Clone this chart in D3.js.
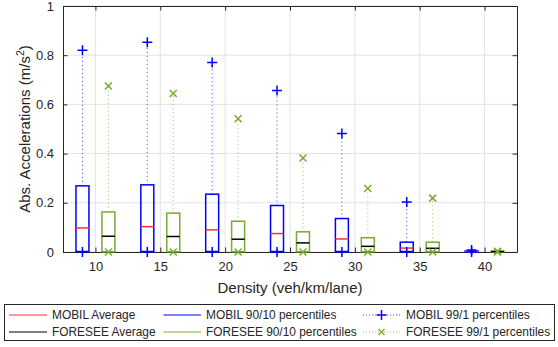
<!DOCTYPE html>
<html>
<head>
<meta charset="utf-8">
<script src="https://cdn.jsdelivr.net/npm/d3@7"></script>
<style>
  html, body { margin: 0; padding: 0; background: #fff; }
  svg { display: block; }
  text { font-family: "Liberation Sans", Arial, Helvetica, sans-serif; fill: #262626; }
</style>
</head>
<body>
<svg id="chart" width="558" height="347"></svg>
<script>
// ---- data ----
const densities   = [10, 15, 20, 25, 30, 35, 40];
const mobilAvg    = [0.098, 0.103, 0.090, 0.075, 0.053, 0.016, 0.002];
const mobilP90    = [0.269, 0.273, 0.235, 0.189, 0.136, 0.040, 0.004];
const mobilP10    = [0.002, 0.002, 0.002, 0.002, 0.002, 0.002, 0.001];
const mobilP99    = [0.820, 0.853, 0.770, 0.657, 0.482, 0.203, 0.008];
const mobilP1     = [0, 0, 0, 0, 0, 0, 0];
const foreseeAvg  = [0.064, 0.063, 0.052, 0.037, 0.023, 0.015, 0.002];
const foreseeP90  = [0.163, 0.158, 0.125, 0.082, 0.058, 0.040, 0.003];
const foreseeP10  = [0.001, 0.001, 0.001, 0.001, 0.001, 0.001, 0.001];
const foreseeP99  = [0.675, 0.644, 0.542, 0.382, 0.258, 0.219, 0.003];
const foreseeP1   = [0, 0, 0, 0, 0, 0, 0];
const xTicks = [10, 15, 20, 25, 30, 35, 40];
const yTicks = [0, 0.2, 0.4, 0.6, 0.8, 1];
const xLabel = "Density (veh/km/lane)";
const yLabel = "Abs. Accelerations (m/s";
const legendLabels = [
  "MOBIL Average", "MOBIL 90/10 percentiles", "MOBIL 99/1 percentiles",
  "FORESEE Average", "FORESEE 90/10 percentiles", "FORESEE 99/1 percentiles"
];

// ---- layout ----
const L = 63, R = 517, T = 6, B = 252;
const BLUE = "#0000ff", GREEN = "#77ac30", RED = "#ff3030", BLACK = "#000000", AX = "#262626";
const svg = d3.select("#chart");
const x = d3.scaleLinear().domain([7.5, 42.5]).range([L, R]);
const y = d3.scaleLinear().domain([0, 1]).range([B, T]);
const offset = 1, halfW = 0.5;

// grid
const g = svg.append("g");
g.selectAll(".vg").data(xTicks).join("line")
  .attr("x1", d => x(d)).attr("x2", d => x(d)).attr("y1", T).attr("y2", B)
  .attr("stroke", "#e3e3e3").attr("stroke-width", 1);
g.selectAll(".hg").data(yTicks).join("line")
  .attr("x1", L).attr("x2", R).attr("y1", d => y(d)).attr("y2", d => y(d))
  .attr("stroke", "#e3e3e3").attr("stroke-width", 1);

// axes (inward ticks, full box)
const tl = 4.5;
const axB = svg.append("g").attr("transform", `translate(0,${B})`)
  .call(d3.axisBottom(x).tickValues(xTicks).tickSizeInner(-tl).tickSizeOuter(0).tickPadding(10));
const axT = svg.append("g").attr("transform", `translate(0,${T})`)
  .call(d3.axisTop(x).tickValues(xTicks).tickSizeInner(-tl).tickSizeOuter(0).tickFormat(""));
const axL = svg.append("g").attr("transform", `translate(${L},0)`)
  .call(d3.axisLeft(y).tickValues(yTicks).tickSizeInner(-tl).tickSizeOuter(0).tickPadding(9).tickFormat(d3.format("")));
const axR = svg.append("g").attr("transform", `translate(${R},0)`)
  .call(d3.axisRight(y).tickValues(yTicks).tickSizeInner(-tl).tickSizeOuter(0).tickFormat(""));
[axB, axT, axL, axR].forEach(a => {
  a.select(".domain").attr("stroke", AX).attr("stroke-width", 1);
  a.selectAll(".tick line").attr("stroke", AX);
  a.selectAll("text").attr("font-size", 13).attr("fill", AX)
    .style("font-family", '"Liberation Sans", Arial, sans-serif');
});
axB.selectAll(".tick text").attr("dy", "0.71em");

// series drawing
function drawSeries(off, avg, p90, p10, p99, p1, col, avgCol, marker) {
  const gg = svg.append("g");
  const idx = d3.range(densities.length);
  // whiskers (dotted)
  gg.selectAll(".wu").data(idx).join("line")
    .attr("x1", i => x(densities[i] + off)).attr("x2", i => x(densities[i] + off))
    .attr("y1", i => y(p90[i])).attr("y2", i => y(p99[i]))
    .attr("stroke", col).attr("stroke-width", 1).attr("stroke-dasharray", "1,3").attr("opacity", 0.75);
  gg.selectAll(".wd").data(idx).join("line")
    .attr("x1", i => x(densities[i] + off)).attr("x2", i => x(densities[i] + off))
    .attr("y1", i => y(p10[i])).attr("y2", i => y(p1[i]))
    .attr("stroke", col).attr("stroke-width", 1).attr("stroke-dasharray", "1,3").attr("opacity", 0.75);
  // boxes
  gg.selectAll(".box").data(idx).join("rect")
    .attr("x", i => x(densities[i] + off - halfW))
    .attr("width", i => x(densities[i] + off + halfW) - x(densities[i] + off - halfW))
    .attr("y", i => y(p90[i]))
    .attr("height", i => Math.max(0.5, y(p10[i]) - y(p90[i])))
    .attr("fill", "none").attr("stroke", col).attr("stroke-width", 1.5);
  // averages
  gg.selectAll(".avg").data(idx).join("line")
    .attr("x1", i => x(densities[i] + off - halfW)).attr("x2", i => x(densities[i] + off + halfW))
    .attr("y1", i => y(avg[i])).attr("y2", i => y(avg[i]))
    .attr("stroke", avgCol).attr("stroke-width", 1.5);
  // markers
  const mk = (cx, cy) => marker === "plus"
    ? `M${cx - 5},${cy}H${cx + 5}M${cx},${cy - 5}V${cy + 5}`
    : `M${cx - 3.5},${cy - 3.5}L${cx + 3.5},${cy + 3.5}M${cx - 3.5},${cy + 3.5}L${cx + 3.5},${cy - 3.5}`;
  gg.selectAll(".mu").data(idx).join("path")
    .attr("d", i => mk(x(densities[i] + off), y(p99[i])))
    .attr("stroke", col).attr("stroke-width", 1.5).attr("fill", "none");
  gg.selectAll(".md").data(idx).join("path")
    .attr("d", i => mk(x(densities[i] + off), y(p1[i])))
    .attr("stroke", col).attr("stroke-width", 1.5).attr("fill", "none");
}
drawSeries(-offset, mobilAvg, mobilP90, mobilP10, mobilP99, mobilP1, BLUE, RED, "plus");
drawSeries(offset, foreseeAvg, foreseeP90, foreseeP10, foreseeP99, foreseeP1, GREEN, BLACK, "x");

// axis labels
svg.append("text").attr("x", (L + R) / 2).attr("y", 292.5).attr("text-anchor", "middle")
  .attr("font-size", 15).text(xLabel);
const yl = svg.append("text").attr("transform", `translate(30,${(T + B) / 2}) rotate(-90)`)
  .attr("text-anchor", "middle").attr("font-size", 15);
yl.append("tspan").text(yLabel);
yl.append("tspan").attr("font-size", 10.5).attr("dy", -6).text("2");
yl.append("tspan").attr("dy", 6).text(")");

// legend
const lg = svg.append("g");
lg.append("rect").attr("x", 4.5).attr("y", 304.5).attr("width", 550).attr("height", 36)
  .attr("fill", "#fff").attr("stroke", AX).attr("stroke-width", 1);
const cols = [{ l0: 9, l1: 47, t: 52 }, { l0: 163.5, l1: 201, t: 206 }, { l0: 363, l1: 400, t: 406 }];
const rows = [315, 332];
const legendStyles = [
  { col: RED, dash: null, mk: null }, { col: BLUE, dash: null, mk: null }, { col: BLUE, dash: "1,2", mk: "plus" },
  { col: BLACK, dash: null, mk: null }, { col: GREEN, dash: null, mk: null }, { col: GREEN, dash: "1,2", mk: "x" }
];
legendLabels.forEach((lab, k) => {
  const c = cols[k % 3], r = rows[Math.floor(k / 3)], st = legendStyles[k];
  const ln = lg.append("line").attr("x1", c.l0).attr("x2", c.l1).attr("y1", r).attr("y2", r)
    .attr("stroke", st.col).attr("stroke-width", 1);
  if (st.dash) ln.attr("stroke-dasharray", st.dash).attr("opacity", 0.7);
  const cx = (c.l0 + c.l1) / 2;
  if (st.mk === "plus") lg.append("path").attr("d", `M${cx - 5},${r}H${cx + 5}M${cx},${r - 5}V${r + 5}`)
    .attr("stroke", st.col).attr("stroke-width", 1.5);
  if (st.mk === "x") lg.append("path").attr("d", `M${cx - 3},${r - 3}L${cx + 3},${r + 3}M${cx - 3},${r + 3}L${cx + 3},${r - 3}`)
    .attr("stroke", st.col).attr("stroke-width", 1.3);
  lg.append("text").attr("x", c.t).attr("y", r + 4.2).attr("font-size", 11.9).attr("fill", "#000").text(lab);
});
</script>
</body>
</html>
